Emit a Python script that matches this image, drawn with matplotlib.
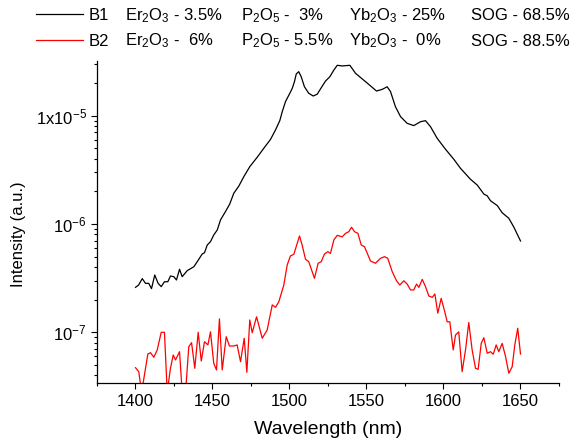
import math
import matplotlib
matplotlib.use("Agg")
import matplotlib.pyplot as plt
from matplotlib.ticker import LogLocator, FuncFormatter, MultipleLocator, NullFormatter

plt.rcParams['font.family'] = 'Liberation Sans'
plt.rcParams['mathtext.fontset'] = 'custom'
plt.rcParams['mathtext.rm'] = 'Liberation Sans'
plt.rcParams['mathtext.it'] = 'Liberation Sans:italic'
plt.rcParams['mathtext.bf'] = 'Liberation Sans:bold'

# intensities in units of 1e-7 a.u.
wl_b1 = [1400, 1402, 1404.4, 1406.5, 1408.6, 1410.4, 1412.5, 1414.7, 1416.7, 1418.8,
         1421, 1422.7, 1424.9, 1426.6, 1428.6, 1430.3, 1433.6, 1437.9, 1440.5, 1443.3,
         1444.8, 1446.6, 1448.7, 1450.8, 1453.1, 1455.2, 1458.4, 1461.2, 1463.8, 1467.1,
         1470.3, 1474.2, 1479, 1483.3, 1487.7, 1490.9, 1493.7, 1495.3, 1497.4, 1500.2,
         1501.8, 1503.2, 1504.4, 1506, 1507.6, 1509.7, 1512.5, 1515.4, 1518, 1520.8,
         1523.4, 1526.2, 1528.8, 1531, 1534.2, 1539.2, 1542.9, 1549.4, 1556.5, 1560.2,
         1563.4, 1565.6, 1568.8, 1572.1, 1576.4, 1580.7, 1585.1, 1588.3, 1591.6, 1595.9,
         1601.3, 1606.7, 1611, 1617.5, 1621.9, 1626.2, 1628.4, 1630.5, 1634.9, 1638.1,
         1642.4, 1645.6, 1650]
b1 = [2.60, 2.73, 3.13, 2.83, 2.83, 2.53, 3.38, 2.83, 2.64, 2.93,
      2.93, 3.31, 3.26, 3.04, 3.82, 3.26, 3.71, 4.03, 4.58, 5.28,
      5.43, 6.40, 6.87, 7.91, 8.81, 10.9, 13.0, 15.3, 19.2, 22.4,
      27.3, 33.8, 41.3, 50.0, 60.5, 73.8, 90.0, 109, 135, 161,
      179, 206, 243, 255, 229, 185, 161, 152, 158, 183,
      209, 229, 264, 292, 288, 292, 246, 206, 169, 175,
      185, 167, 121, 98, 85, 81, 88, 90, 79, 61.8,
      49, 39.6, 32.7, 25.9, 22.9, 18.9, 18.2, 16.4, 14.8, 12.7,
      11.3, 9.4, 6.97]

wl_b2 = [1400, 1402.1, 1404, 1408, 1409.7, 1411.9, 1414.1, 1416.7, 1418.8, 1420.6,
         1422.7, 1424.5, 1426, 1428.6, 1430.3, 1432.5, 1434.6, 1436.4, 1438.5, 1440.7,
         1442.7, 1444.8, 1447, 1448.7, 1450.8, 1452.6, 1454.5, 1456.3, 1458.9, 1461,
         1463.8, 1466, 1468.2, 1470.6, 1472.3, 1474.2, 1475.8, 1478.6, 1481.2, 1482.3,
         1485.5, 1488.8, 1490.9, 1493.1, 1496.3, 1498.5, 1500.6, 1502.8, 1506.5, 1508.2,
         1510.4, 1512.5, 1516.2, 1518.6, 1520.6, 1522.7, 1524.9, 1526.6, 1528.8, 1531,
         1534.2, 1536.4, 1538.5, 1540.3, 1542.2, 1544.4, 1546.6, 1548.7, 1552.6, 1555.8,
         1559.1, 1561.7, 1563.8, 1566.7, 1569.5, 1571.6, 1574.2, 1576.4, 1578.6, 1580.7,
         1582.5, 1584, 1586.2, 1588.3, 1590.5, 1592.7, 1594.4, 1596.3, 1598.5, 1600.8,
         1602.4, 1604.1, 1606.3, 1607.8, 1609.9, 1612.1, 1614.3, 1616.4, 1618.6, 1620.8,
         1622.5, 1624.5, 1626.2, 1628.4, 1630.5, 1632.3, 1634.2, 1635.9, 1638.1, 1640.3,
         1642.4, 1644.6, 1646.3, 1648.2, 1650]
b2 = [0.471, 0.433, 0.28, 0.63, 0.648, 0.588, 0.687, 1.0, 1.0, 0.28,
      0.465, 0.617, 0.555, 0.662, 0.28, 0.28, 0.736, 0.802, 0.465, 1.0,
      0.543, 0.819, 0.764, 1.01, 0.517, 0.449, 1.33, 0.449, 0.91, 0.747,
      0.747, 0.764, 0.535, 0.881, 0.427, 1.30, 0.99, 1.39, 1.01, 0.881,
      1.05, 1.79, 1.70, 1.92, 2.73, 4.18, 5.07, 5.25, 7.75, 6.40,
      4.72, 4.49, 3.15, 4.34, 4.49, 5.28, 5.55, 5.35, 7.12, 7.86,
      7.6, 8.2, 8.49, 9.33, 8.49, 8.2, 6.40, 6.17, 4.55, 4.34,
      4.82, 4.99, 4.82, 3.63, 2.99, 2.73, 2.99, 2.79, 2.46, 2.46,
      2.79, 2.60, 3.08, 2.64, 2.16, 2.10, 2.26, 1.50, 2.06, 1.55,
      1.25, 1.25, 0.687, 0.944, 1.01, 0.433, 0.687, 1.23, 0.687, 0.465,
      0.455, 0.79, 0.89, 0.64, 0.662, 0.627, 0.764, 0.662, 0.79, 0.596,
      0.418, 0.481, 0.764, 1.09, 0.63]
scale = 1e-7

samples = ['B1', 'B2']
er2o3 = ['3.5%', ' 6%']
p2o5 = [' 3%', '5.5%']
yb2o3 = ['25%', ' 0%']
sog = ['68.5%', '88.5%']

fig = plt.figure(figsize=(5.76, 4.44), dpi=100)
ax = fig.add_axes([97 / 576, 1 - 383.3 / 444, 462 / 576, 322.6 / 444])

l1, = ax.plot(wl_b1, [v * scale for v in b1], color='black', lw=0.9)
l2, = ax.plot(wl_b2, [v * scale for v in b2], color='red', lw=0.9)

ax.set_yscale('log')
ax.set_xlim(1375, 1675)
ax.set_ylim(3.38e-8, 3.22e-5)

ax.xaxis.set_major_locator(MultipleLocator(50))
ax.xaxis.set_minor_locator(MultipleLocator(25))
ax.yaxis.set_major_locator(LogLocator(base=10))
ax.yaxis.set_minor_locator(LogLocator(base=10, subs=range(2, 10)))
ax.yaxis.set_minor_formatter(NullFormatter())


def ylab(v, pos):
    e = int(round(math.log10(v)))
    if e == -5:
        return r'1x10$^{%d}$' % e
    return r'10$^{%d}$' % e


ax.yaxis.set_major_formatter(FuncFormatter(ylab))

for s in ['top', 'right']:
    ax.spines[s].set_visible(False)
for s in ['left', 'bottom']:
    ax.spines[s].set_linewidth(0.9)
ax.tick_params(which='major', direction='out', length=4.5, width=0.8, labelsize=12, pad=3)
ax.tick_params(which='minor', direction='out', length=2.5, width=0.8)

ax.set_xlabel('Wavelength (nm)', fontsize=14, labelpad=9)
ax.set_ylabel('Intensity (a.u.)', fontsize=12)
ax.yaxis.set_label_coords(-0.153, 0.463)

fig.legend([l1, l2], samples, loc='upper left', bbox_to_anchor=(36 / 576, 1 - 8 / 444),
           frameon=False, borderpad=0, borderaxespad=0, handlelength=2.8,
           handletextpad=0.33, labelspacing=0.65, fontsize=12)

cols = [(125, 'Er$_2$O$_3$ - ', er2o3), (240.6, 'P$_2$O$_5$ - ', p2o5),
        (349, 'Yb$_2$O$_3$ - ', yb2o3), (471, 'SOG - ', sog)]
for i, yb in enumerate([19.8, 45.5]):
    for x, name, vals in cols:
        fig.text(x / 576, 1 - yb / 444, name + vals[i], fontsize=12, va='baseline', ha='left')

fig.savefig('out.png', dpi=100)
